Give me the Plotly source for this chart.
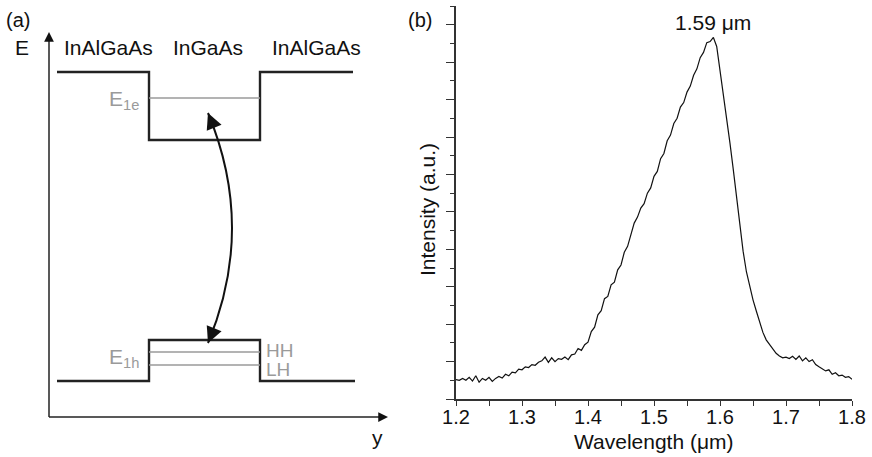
import plotly.graph_objects as go

# ---------------- (b) photoluminescence spectrum ----------------
wavelength_um = [
    1.200, 1.205, 1.210, 1.215, 1.220, 1.225, 1.230, 1.235, 1.240, 1.245,
    1.250, 1.255, 1.260, 1.265, 1.270, 1.275, 1.280, 1.285, 1.290, 1.295,
    1.300, 1.305, 1.310, 1.315, 1.320, 1.325, 1.330, 1.335, 1.340, 1.345,
    1.350, 1.355, 1.360, 1.365, 1.370, 1.375, 1.380, 1.385, 1.390, 1.395,
    1.400, 1.405, 1.410, 1.415, 1.420, 1.425, 1.430, 1.435, 1.440, 1.445,
    1.450, 1.455, 1.460, 1.465, 1.470, 1.475, 1.480, 1.485, 1.490, 1.495,
    1.500, 1.505, 1.510, 1.515, 1.520, 1.525, 1.530, 1.535, 1.540, 1.545,
    1.550, 1.555, 1.560, 1.565, 1.570, 1.575, 1.580, 1.585, 1.590, 1.595,
    1.600, 1.605, 1.610, 1.615, 1.620, 1.625, 1.630, 1.635, 1.640, 1.645,
    1.650, 1.655, 1.660, 1.665, 1.670, 1.675, 1.680, 1.685, 1.690, 1.695,
    1.700, 1.705, 1.710, 1.715, 1.720, 1.725, 1.730, 1.735, 1.740, 1.745,
    1.750, 1.755, 1.760, 1.765, 1.770, 1.775, 1.780, 1.785, 1.790, 1.795,
    1.800,
]
intensity_au = [
    0.52, 0.50, 0.55, 0.50, 0.58, 0.48, 0.62, 0.45, 0.55, 0.50,
    0.58, 0.47, 0.55, 0.60, 0.56, 0.66, 0.62, 0.72, 0.70, 0.80,
    0.78, 0.86, 0.84, 0.92, 0.90, 0.98, 1.02, 1.12, 0.98, 1.10,
    1.00, 1.08, 1.06, 1.12, 1.05, 1.18, 1.20, 1.35, 1.30, 1.45,
    1.52, 1.80, 1.92, 2.25, 2.36, 2.68, 2.74, 3.05, 3.12, 3.45,
    3.58, 3.92, 4.08, 4.42, 4.70, 4.86, 5.10, 5.22, 5.50, 5.64,
    5.95, 6.08, 6.42, 6.56, 6.90, 7.05, 7.36, 7.50, 7.80, 7.92,
    8.20, 8.36, 8.65, 8.82, 9.12, 9.26, 9.52, 9.55, 9.66, 9.42,
    8.80, 8.15, 7.50, 6.85, 6.15, 5.40, 4.55, 3.95, 3.40, 3.00,
    2.65, 2.35, 2.05, 1.78, 1.58, 1.45, 1.32, 1.22, 1.15, 1.10,
    1.12, 1.08, 1.14, 1.06, 1.15, 1.02, 1.10, 1.00, 1.05, 0.92,
    0.86, 0.80, 0.75, 0.78, 0.66, 0.70, 0.62, 0.64, 0.58, 0.60,
    0.53,
]
peak_wavelength = 1.59
peak_label = "1.59 \u03bcm"
x_ticks = [1.2, 1.3, 1.4, 1.5, 1.6, 1.7, 1.8]

# ---------------- (a) band diagram of the quantum well ----------------
# positions along the growth direction (arbitrary units)
layer_edges = [0.8, 10.0, 21.1, 30.4]          # barrier start, well start, well end, barrier end
layer_names = ["InAlGaAs", "InGaAs", "InAlGaAs"]
layer_label_x = [5.9, 15.9, 26.7]
# energies (arbitrary units)
cb_barrier, cb_well = 34.5, 27.7
vb_barrier, vb_well = 3.6, 7.7
e1e_level = 31.9
hh_level, lh_level = 6.5, 5.2
transition_x = 15.9
transition_bow = 20.7
transition_top, transition_bottom = 30.4, 7.4
axis_top, axis_right = 38.5, 33.9

FONT = "Liberation Sans, Arial, Helvetica, sans-serif"
INK = "#222222"
GREY = "#9a9a9a"

fig = go.Figure()

# spectrum
fig.add_trace(go.Scatter(
    x=wavelength_um, y=intensity_au, mode="lines",
    line=dict(color="#111111", width=1.2),
    xaxis="x", yaxis="y", showlegend=False, hoverinfo="skip",
))

# conduction band profile
x0, x1, x2, x3 = layer_edges
fig.add_trace(go.Scatter(
    x=[x0, x1, x1, x2, x2, x3],
    y=[cb_barrier, cb_barrier, cb_well, cb_well, cb_barrier, cb_barrier],
    mode="lines", line=dict(color=INK, width=2.4),
    xaxis="x2", yaxis="y2", showlegend=False, hoverinfo="skip",
))
# valence band profile
fig.add_trace(go.Scatter(
    x=[x0, x1, x1, x2, x2, x3 + 0.2],
    y=[vb_barrier, vb_barrier, vb_well, vb_well, vb_barrier, vb_barrier],
    mode="lines", line=dict(color=INK, width=2.4),
    xaxis="x2", yaxis="y2", showlegend=False, hoverinfo="skip",
))
# confined levels
for lvl in (e1e_level, hh_level, lh_level):
    fig.add_trace(go.Scatter(
        x=[x1, x2], y=[lvl, lvl], mode="lines",
        line=dict(color=GREY, width=1.5),
        xaxis="x2", yaxis="y2", showlegend=False, hoverinfo="skip",
    ))

# E and y axes of the diagram
for ax_x, ax_y in (([0, 0], [0, axis_top - 0.5]), ([0, axis_right - 0.5], [0, 0])):
    fig.add_trace(go.Scatter(
        x=ax_x, y=ax_y, mode="lines", line=dict(color=INK, width=1.5),
        xaxis="x2", yaxis="y2", showlegend=False, hoverinfo="skip",
    ))

# curved transition between E1e and E1h
y_mid = (transition_top + transition_bottom) / 2
shapes = [dict(
    type="path", xref="x2", yref="y2",
    path=(f"M {transition_x},{transition_top} Q {transition_bow},{y_mid} "
          f"{transition_x},{transition_bottom}"),
    line=dict(color="#111111", width=2),
)]

annotations = []


def head(x, y, ax, ay, size, width):
    """Arrowhead only: a short arrow whose tail lies on the drawn line."""
    annotations.append(dict(x=x, y=y, xref="x2", yref="y2", ax=ax, ay=ay,
                            showarrow=True, arrowhead=2, arrowsize=size,
                            arrowwidth=width, arrowcolor="#111111", text=""))


head(transition_x, transition_top, 5, 12, 1.6, 2)
head(transition_x, transition_bottom, 5, -12, 1.6, 2)
head(0, axis_top, 0, 10, 1.3, 1.5)
head(axis_right, 0, -10, 0, 1.3, 1.5)


def label(text, x, y, ref="2", size=21, color="#111111", xanchor="center", **kw):
    d = dict(text=text, x=x, y=y, xref="x" + ref if ref else "paper",
             yref="y" + ref if ref else "paper", showarrow=False,
             font=dict(family=FONT, size=size, color=color),
             xanchor=xanchor, yanchor="middle")
    d.update(kw)
    annotations.append(d)


for name, lx in zip(layer_names, layer_label_x):
    label(name, lx, 37.0)
label("E", -2.75, 37.0)
label("(a)", -3.15, 39.75, size=20)
label("y", 32.8, -2.0)
label("E<sub>1e</sub>", 9.2, 31.7, color=GREY, xanchor="right")
label("E<sub>1h</sub>", 9.2, 5.9, color=GREY, xanchor="right")
label("HH", 21.5, 6.7, size=19, color=GREY, xanchor="left")
label("LH", 21.5, 4.8, size=19, color=GREY, xanchor="left")

# spectrum labels
annotations.append(dict(text=peak_label, x=peak_wavelength, y=10.07, xref="x", yref="y",
                        showarrow=False, font=dict(family=FONT, size=21, color="#111111"),
                        xanchor="center", yanchor="middle"))
label("(b)", 420 / 872, 1 - 20 / 457, ref="", size=20)
label("Wavelength (\u03bcm)", 654 / 872, 1 - 441 / 457, ref="")
label("Intensity (a.u.)", 428 / 872, 1 - 210 / 457, ref="", textangle=-90)

fig.update_layout(
    width=872, height=457,
    margin=dict(l=0, r=0, t=0, b=0, autoexpand=False),
    paper_bgcolor="white", plot_bgcolor="white",
    font=dict(family=FONT, color="#111111"),
    showlegend=False,
    shapes=shapes,
    annotations=annotations,
    xaxis=dict(
        domain=[456 / 872, 852 / 872], range=[1.2, 1.8], anchor="y",
        automargin=False,
        tickvals=x_ticks, tickformat=".1f",
        ticks="outside", ticklen=5, tickwidth=1.3, tickcolor="#333333",
        ticklabelstandoff=-6,
        minor=dict(dtick=0.05, tick0=1.2, ticks="outside", ticklen=5,
                   tickwidth=1.3, tickcolor="#333333"),
        showline=True, linecolor="#333333", linewidth=1.5,
        showgrid=False, zeroline=False,
        tickfont=dict(family=FONT, size=20, color="#111111"),
    ),
    yaxis=dict(
        domain=[58 / 457, 451 / 457], range=[0, 10.5], anchor="x",
        automargin=False,
        dtick=1, tick0=0, showticklabels=False,
        ticks="outside", ticklen=8, tickwidth=1.3, tickcolor="#333333",
        minor=dict(dtick=0.5, tick0=0, ticks="outside", ticklen=4,
                   tickwidth=1.3, tickcolor="#333333"),
        showline=True, linecolor="#333333", linewidth=1.5,
        showgrid=False, zeroline=False,
    ),
    xaxis2=dict(domain=[0, 0.45], range=[-4.9, 34.34], anchor="y2",
                visible=False, automargin=False),
    yaxis2=dict(domain=[0, 1], range=[-4.0, 41.7], anchor="x2",
                visible=False, automargin=False),
)

fig.write_html("out.html")
